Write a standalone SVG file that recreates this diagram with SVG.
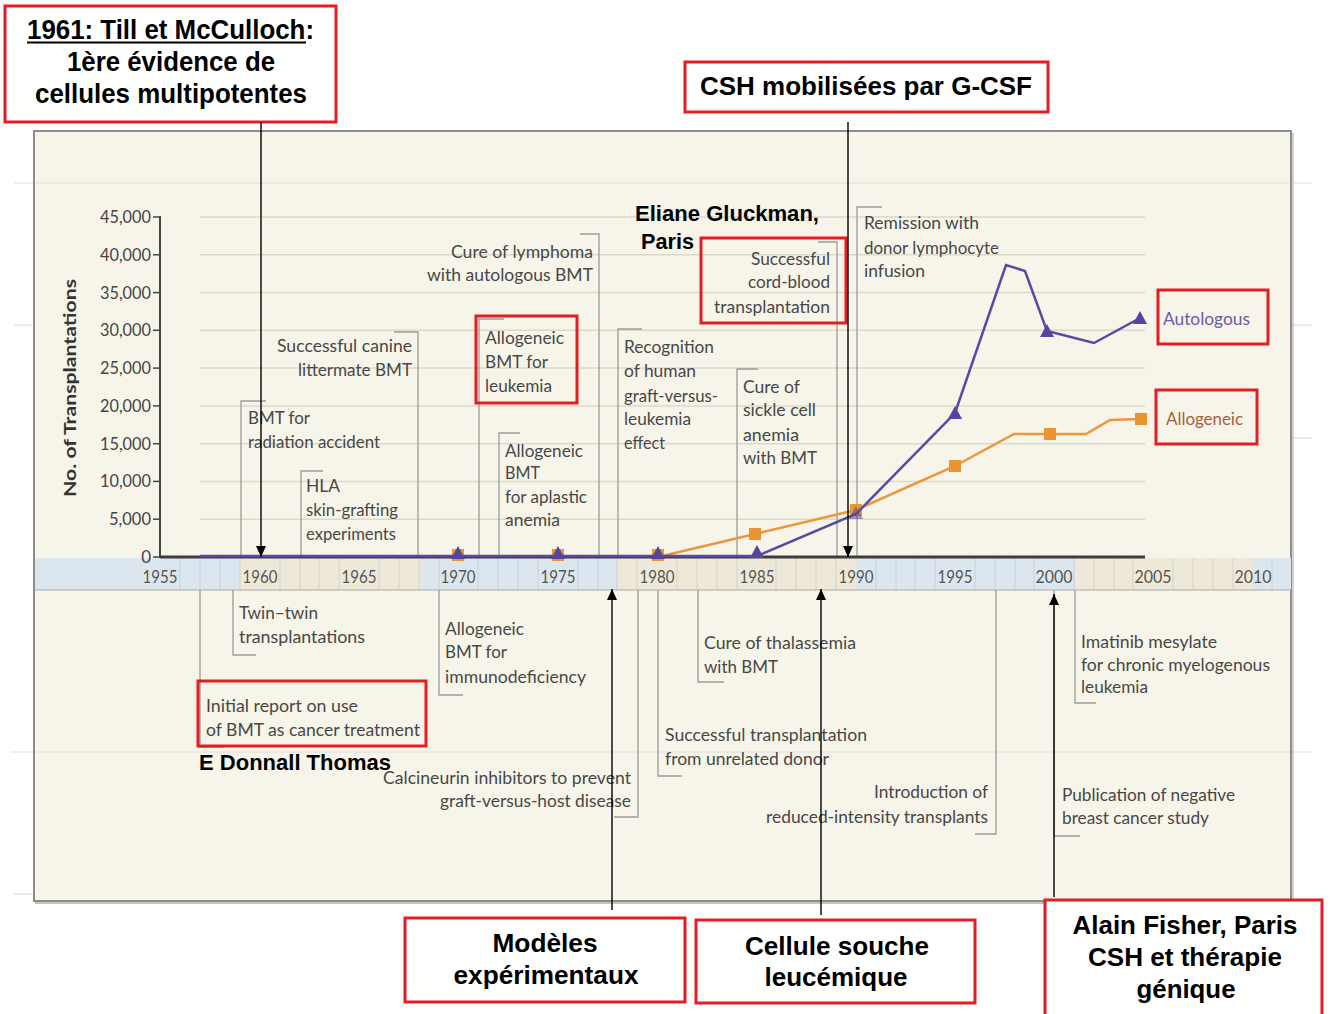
<svg xmlns="http://www.w3.org/2000/svg" xmlns:xlink="http://www.w3.org/1999/xlink" width="1330" height="1014" viewBox="0 0 1330 1014">
<defs>
<style>
.t{font-family:Lato,"Open Sans","Liberation Sans",sans-serif;font-size:18px;fill:#474747}
.e{text-anchor:end}
.m{text-anchor:middle}
.b{font-family:"Liberation Sans",Arial,sans-serif;font-weight:bold;fill:#000}
.rb{fill:none;stroke:#e21d24;stroke-width:3}
.rbw{fill:#fff;stroke:#e21d24;stroke-width:3}
.br{fill:none;stroke:#9a9a9a;stroke-width:1.3}
.grid{stroke:#dcd9ca;stroke-width:1.5}
.faint{stroke:#dedede;stroke-width:1.2}
.arr{stroke:#000;stroke-width:1.4;fill:none;marker-end:url(#ah)}
.yr{font-family:Lato,"Open Sans",sans-serif;font-size:17px;fill:#555;text-anchor:middle}
.yl{font-family:Lato,"Open Sans",sans-serif;font-size:17px;fill:#444;text-anchor:end}
.bl{stroke:#c9cccc;stroke-width:0.8}
</style>
<marker id="ah" markerUnits="userSpaceOnUse" markerWidth="12" markerHeight="12" refX="11" refY="5" orient="auto">
<path d="M0,0 L11,5 L0,10 z" fill="#000"/>
</marker>
<path id="tri" d="M0,-10 L7,3 L-7,3 z" fill="#56459f"/>
<rect id="sq" x="-6" y="-6" width="12" height="12" fill="#ec9431"/>
</defs>
<rect width="1330" height="1014" fill="#fff"/>

<g id="chart-frame">
<line class="faint" x1="14" y1="183" x2="1312" y2="183"/>
<line class="faint" x1="10" y1="752" x2="1312" y2="752"/>
<rect x="34" y="131" width="1257" height="770" fill="#f7f5e9" stroke="#8c8c8c" stroke-width="2"/>
<line class="faint" x1="36" y1="183" x2="1289" y2="183"/>
<line class="faint" x1="36" y1="752" x2="1289" y2="752"/>
<line class="faint" x1="14" y1="325" x2="33" y2="325"/>
<line class="faint" x1="1292" y1="325" x2="1312" y2="325"/>
<line class="faint" x1="1292" y1="438" x2="1312" y2="438"/>
<line class="faint" x1="14" y1="894" x2="33" y2="894"/>
<line x1="35" y1="903" x2="1293" y2="903" stroke="#c4c4c4" stroke-width="2"/>
<line x1="1293" y1="133" x2="1293" y2="903" stroke="#c4c4c4" stroke-width="1.5"/>
</g>

<g id="grid">
<line class="grid" x1="200" y1="217" x2="1145" y2="217"/>
<line class="grid" x1="200" y1="254.8" x2="1145" y2="254.8"/>
<line class="grid" x1="200" y1="292.6" x2="1145" y2="292.6"/>
<line class="grid" x1="200" y1="330.3" x2="1145" y2="330.3"/>
<line class="grid" x1="200" y1="368.1" x2="1145" y2="368.1"/>
<line class="grid" x1="200" y1="405.9" x2="1145" y2="405.9"/>
<line class="grid" x1="200" y1="443.7" x2="1145" y2="443.7"/>
<line class="grid" x1="200" y1="481.4" x2="1145" y2="481.4"/>
<line class="grid" x1="200" y1="519.2" x2="1145" y2="519.2"/>
</g>

<g id="time-band">
<rect x="35" y="558" width="1256" height="32" fill="#dce6ee"/>
<rect x="240" y="558" width="181" height="32" fill="#eee8d8"/>
<rect x="617" y="558" width="239" height="32" fill="#eee8d8"/>
<rect x="1075" y="558" width="178" height="32" fill="#eee8d8"/>
<g class="bl">
<line x1="180" y1="558" x2="180" y2="590"/><line x1="200" y1="558" x2="200" y2="590"/><line x1="220" y1="558" x2="220" y2="590"/><line x1="240" y1="558" x2="240" y2="590"/><line x1="280" y1="558" x2="280" y2="590"/><line x1="300" y1="558" x2="300" y2="590"/><line x1="319" y1="558" x2="319" y2="590"/><line x1="339" y1="558" x2="339" y2="590"/><line x1="379" y1="558" x2="379" y2="590"/><line x1="399" y1="558" x2="399" y2="590"/><line x1="419" y1="558" x2="419" y2="590"/><line x1="439" y1="558" x2="439" y2="590"/><line x1="478" y1="558" x2="478" y2="590"/><line x1="498" y1="558" x2="498" y2="590"/><line x1="518" y1="558" x2="518" y2="590"/><line x1="538" y1="558" x2="538" y2="590"/><line x1="578" y1="558" x2="578" y2="590"/><line x1="598" y1="558" x2="598" y2="590"/><line x1="617" y1="558" x2="617" y2="590"/><line x1="637" y1="558" x2="637" y2="590"/><line x1="677" y1="558" x2="677" y2="590"/><line x1="697" y1="558" x2="697" y2="590"/><line x1="717" y1="558" x2="717" y2="590"/><line x1="737" y1="558" x2="737" y2="590"/><line x1="776" y1="558" x2="776" y2="590"/><line x1="796" y1="558" x2="796" y2="590"/><line x1="816" y1="558" x2="816" y2="590"/><line x1="836" y1="558" x2="836" y2="590"/><line x1="876" y1="558" x2="876" y2="590"/><line x1="896" y1="558" x2="896" y2="590"/><line x1="915" y1="558" x2="915" y2="590"/><line x1="935" y1="558" x2="935" y2="590"/><line x1="975" y1="558" x2="975" y2="590"/><line x1="995" y1="558" x2="995" y2="590"/><line x1="1015" y1="558" x2="1015" y2="590"/><line x1="1034" y1="558" x2="1034" y2="590"/><line x1="1074" y1="558" x2="1074" y2="590"/><line x1="1094" y1="558" x2="1094" y2="590"/><line x1="1114" y1="558" x2="1114" y2="590"/><line x1="1133" y1="558" x2="1133" y2="590"/><line x1="1173" y1="558" x2="1173" y2="590"/><line x1="1193" y1="558" x2="1193" y2="590"/><line x1="1213" y1="558" x2="1213" y2="590"/><line x1="1233" y1="558" x2="1233" y2="590"/><line x1="1272" y1="558" x2="1272" y2="590"/>
</g>
<line x1="35" y1="590" x2="1291" y2="590" stroke="#a8a8a8" stroke-width="1.2"/>
<text class="yr" x="160" y="583" textLength="35" lengthAdjust="spacingAndGlyphs">1955</text>
<text class="yr" x="260" y="583" textLength="35" lengthAdjust="spacingAndGlyphs">1960</text>
<text class="yr" x="359" y="583" textLength="35" lengthAdjust="spacingAndGlyphs">1965</text>
<text class="yr" x="458" y="583" textLength="35" lengthAdjust="spacingAndGlyphs">1970</text>
<text class="yr" x="558" y="583" textLength="35" lengthAdjust="spacingAndGlyphs">1975</text>
<text class="yr" x="657" y="583" textLength="35" lengthAdjust="spacingAndGlyphs">1980</text>
<text class="yr" x="757" y="583" textLength="35" lengthAdjust="spacingAndGlyphs">1985</text>
<text class="yr" x="856" y="583" textLength="35" lengthAdjust="spacingAndGlyphs">1990</text>
<text class="yr" x="955" y="583" textLength="35" lengthAdjust="spacingAndGlyphs">1995</text>
<text class="yr" x="1054" y="583" textLength="37" lengthAdjust="spacingAndGlyphs">2000</text>
<text class="yr" x="1153" y="583" textLength="37" lengthAdjust="spacingAndGlyphs">2005</text>
<text class="yr" x="1253" y="583" textLength="37" lengthAdjust="spacingAndGlyphs">2010</text>
</g>

<g id="y-axis">
<line x1="160" y1="216" x2="160" y2="558" stroke="#444" stroke-width="2"/>
<g stroke="#444" stroke-width="1.5">
<line x1="153" y1="217" x2="160" y2="217"/><line x1="153" y1="254.8" x2="160" y2="254.8"/><line x1="153" y1="292.6" x2="160" y2="292.6"/><line x1="153" y1="330.3" x2="160" y2="330.3"/><line x1="153" y1="368.1" x2="160" y2="368.1"/><line x1="153" y1="405.9" x2="160" y2="405.9"/><line x1="153" y1="443.7" x2="160" y2="443.7"/><line x1="153" y1="481.4" x2="160" y2="481.4"/><line x1="153" y1="519.2" x2="160" y2="519.2"/><line x1="153" y1="557" x2="160" y2="557"/>
</g>
<text class="yl" x="151" y="223" textLength="51" lengthAdjust="spacingAndGlyphs">45,000</text>
<text class="yl" x="151" y="261" textLength="51" lengthAdjust="spacingAndGlyphs">40,000</text>
<text class="yl" x="151" y="299" textLength="51" lengthAdjust="spacingAndGlyphs">35,000</text>
<text class="yl" x="151" y="336" textLength="51" lengthAdjust="spacingAndGlyphs">30,000</text>
<text class="yl" x="151" y="374" textLength="51" lengthAdjust="spacingAndGlyphs">25,000</text>
<text class="yl" x="151" y="412" textLength="51" lengthAdjust="spacingAndGlyphs">20,000</text>
<text class="yl" x="151" y="450" textLength="51" lengthAdjust="spacingAndGlyphs">15,000</text>
<text class="yl" x="151" y="487" textLength="51" lengthAdjust="spacingAndGlyphs">10,000</text>
<text class="yl" x="151" y="525" textLength="42" lengthAdjust="spacingAndGlyphs">5,000</text>
<text class="yl" x="151" y="563">0</text>
<text transform="translate(76,388) rotate(-90)" text-anchor="middle" font-family="Lato,'Open Sans',sans-serif" font-weight="bold" font-size="17" fill="#333" textLength="218" lengthAdjust="spacingAndGlyphs">No. of Transplantations</text>
</g>

<g id="annotations-upper">
<g id="ann-radiation">
<path class="br" d="M266,401 H241 V557"/>
<text class="t" x="248" y="424" textLength="62" lengthAdjust="spacingAndGlyphs">BMT for</text>
<text class="t" x="248" y="448" textLength="132" lengthAdjust="spacingAndGlyphs">radiation accident</text>
</g>
<g id="ann-canine">
<path class="br" d="M394,332 H418 V557"/>
<text class="t e" x="412" y="352" textLength="135" lengthAdjust="spacingAndGlyphs">Successful canine</text>
<text class="t e" x="412" y="376" textLength="114" lengthAdjust="spacingAndGlyphs">littermate BMT</text>
</g>
<g id="ann-hla">
<path class="br" d="M323,471 H301 V557"/>
<text class="t" x="306" y="492" textLength="34" lengthAdjust="spacingAndGlyphs">HLA</text>
<text class="t" x="306" y="516" textLength="92" lengthAdjust="spacingAndGlyphs">skin-grafting</text>
<text class="t" x="306" y="540" textLength="90" lengthAdjust="spacingAndGlyphs">experiments</text>
</g>
<g id="ann-leukemia">
<path class="br" d="M504,319 H479 V557"/>
<text class="t" x="485" y="344" textLength="79" lengthAdjust="spacingAndGlyphs">Allogeneic</text>
<text class="t" x="485" y="368" textLength="63" lengthAdjust="spacingAndGlyphs">BMT for</text>
<text class="t" x="485" y="392" textLength="67" lengthAdjust="spacingAndGlyphs">leukemia</text>
<rect class="rb" x="476" y="316" width="101" height="87"/>
</g>
<g id="ann-aplastic">
<path class="br" d="M520,433 H499 V557"/>
<text class="t" x="505" y="457" textLength="78" lengthAdjust="spacingAndGlyphs">Allogeneic</text>
<text class="t" x="505" y="479" textLength="35" lengthAdjust="spacingAndGlyphs">BMT</text>
<text class="t" x="505" y="503" textLength="82" lengthAdjust="spacingAndGlyphs">for aplastic</text>
<text class="t" x="505" y="526" textLength="55" lengthAdjust="spacingAndGlyphs">anemia</text>
</g>
<g id="ann-lymphoma">
<path class="br" d="M580,234 H599 V557"/>
<text class="t e" x="593" y="258" textLength="142" lengthAdjust="spacingAndGlyphs">Cure of lymphoma</text>
<text class="t e" x="593" y="281" textLength="166" lengthAdjust="spacingAndGlyphs">with autologous BMT</text>
</g>
<g id="ann-recognition">
<path class="br" d="M642,329 H618 V557"/>
<text class="t" x="624" y="353" textLength="90" lengthAdjust="spacingAndGlyphs">Recognition</text>
<text class="t" x="624" y="377" textLength="72" lengthAdjust="spacingAndGlyphs">of human</text>
<text class="t" x="624" y="402" textLength="94" lengthAdjust="spacingAndGlyphs">graft-versus-</text>
<text class="t" x="624" y="425" textLength="67" lengthAdjust="spacingAndGlyphs">leukemia</text>
<text class="t" x="624" y="449" textLength="41" lengthAdjust="spacingAndGlyphs">effect</text>
</g>
<g id="ann-sickle">
<path class="br" d="M758,369 H737 V557"/>
<text class="t" x="743" y="393" textLength="57" lengthAdjust="spacingAndGlyphs">Cure of</text>
<text class="t" x="743" y="416" textLength="73" lengthAdjust="spacingAndGlyphs">sickle cell</text>
<text class="t" x="743" y="441" textLength="56" lengthAdjust="spacingAndGlyphs">anemia</text>
<text class="t" x="743" y="464" textLength="74" lengthAdjust="spacingAndGlyphs">with BMT</text>
</g>
<g id="ann-cordblood">
<path class="br" d="M818,242 H837 V557"/>
<text class="t e" x="830" y="265" textLength="79" lengthAdjust="spacingAndGlyphs">Successful</text>
<text class="t e" x="830" y="288" textLength="82" lengthAdjust="spacingAndGlyphs">cord-blood</text>
<text class="t e" x="830" y="313" textLength="116" lengthAdjust="spacingAndGlyphs">transplantation</text>
<rect class="rb" x="701" y="238" width="145" height="85"/>
</g>
<g id="ann-remission">
<path class="br" d="M882,207 H857 V557"/>
<text class="t" x="864" y="229" textLength="115" lengthAdjust="spacingAndGlyphs">Remission with</text>
<text class="t" x="864" y="254" textLength="135" lengthAdjust="spacingAndGlyphs">donor lymphocyte</text>
<text class="t" x="864" y="277" textLength="61" lengthAdjust="spacingAndGlyphs">infusion</text>
</g>
<g id="label-gluckman">
<text class="b" x="635" y="221" font-size="22" textLength="184" lengthAdjust="spacingAndGlyphs">Eliane Gluckman,</text>
<text class="b" x="641" y="249" font-size="22" textLength="53" lengthAdjust="spacingAndGlyphs">Paris</text>
</g>
</g>

<g id="data">
<line x1="160" y1="557" x2="1145" y2="557" stroke="#3c3c3c" stroke-width="3"/>
<polyline points="658,557 755,534 856,510 955,466 1014,434 1050,434 1086,434 1110,420 1141,419" fill="none" stroke="#eb973a" stroke-width="2.5"/>
<use xlink:href="#sq" x="458" y="555"/><use xlink:href="#sq" x="558" y="555"/><use xlink:href="#sq" x="658" y="555"/>
<use xlink:href="#sq" x="755" y="534"/><use xlink:href="#sq" x="856" y="510"/><use xlink:href="#sq" x="955" y="466"/><use xlink:href="#sq" x="1050" y="434"/><use xlink:href="#sq" x="1141" y="419"/>
<polyline points="200,556 757,556 856,514 955,413 1006,265 1025,271 1047,331 1094,343 1140,318" fill="none" stroke="#5a48a5" stroke-width="2.5"/>
<use xlink:href="#tri" x="458" y="556"/><use xlink:href="#tri" x="558" y="556"/><use xlink:href="#tri" x="658" y="556"/><use xlink:href="#tri" x="757" y="555"/>
<use xlink:href="#tri" x="856" y="516" opacity="0.55"/><use xlink:href="#tri" x="955" y="416"/><use xlink:href="#tri" x="1047" y="334"/><use xlink:href="#tri" x="1140" y="321"/>
</g>

<g id="legend-autologous">
<rect class="rb" x="1158" y="290" width="110" height="54"/>
<text class="t" x="1163" y="325" style="fill:#6a5aaa" textLength="87" lengthAdjust="spacingAndGlyphs">Autologous</text>
</g>
<g id="legend-allogeneic">
<rect class="rb" x="1156" y="390" width="101" height="54"/>
<text class="t" x="1166" y="425" style="fill:#a85f3c" textLength="77" lengthAdjust="spacingAndGlyphs">Allogeneic</text>
</g>

<g id="annotations-lower">
<g id="ann-twin">
<path class="br" d="M233,590 V655 H256"/>
<text class="t" x="239" y="619" textLength="79" lengthAdjust="spacingAndGlyphs">Twin–twin</text>
<text class="t" x="239" y="643" textLength="126" lengthAdjust="spacingAndGlyphs">transplantations</text>
</g>
<g id="ann-initial">
<path class="br" d="M200,590 V747 H224"/>
<text class="t" x="206" y="712" textLength="152" lengthAdjust="spacingAndGlyphs">Initial report on use</text>
<text class="t" x="206" y="736" textLength="214" lengthAdjust="spacingAndGlyphs">of BMT as cancer treatment</text>
<rect class="rb" x="198" y="681" width="228" height="65"/>
</g>
<g id="label-thomas">
<text class="b" x="199" y="770" font-size="22" textLength="192" lengthAdjust="spacingAndGlyphs">E Donnall Thomas</text>
</g>
<g id="ann-immuno">
<path class="br" d="M439,590 V695 H463"/>
<text class="t" x="445" y="635" textLength="79" lengthAdjust="spacingAndGlyphs">Allogeneic</text>
<text class="t" x="445" y="658" textLength="62" lengthAdjust="spacingAndGlyphs">BMT for</text>
<text class="t" x="445" y="683" textLength="141" lengthAdjust="spacingAndGlyphs">immunodeficiency</text>
</g>
<g id="ann-calcineurin">
<path class="br" d="M638,590 V817 H614"/>
<text class="t e" x="631" y="784" textLength="248" lengthAdjust="spacingAndGlyphs">Calcineurin inhibitors to prevent</text>
<text class="t e" x="631" y="807" textLength="191" lengthAdjust="spacingAndGlyphs">graft-versus-host disease</text>
</g>
<g id="ann-unrelated">
<path class="br" d="M658,590 V776 H682"/>
<text class="t" x="665" y="741" textLength="202" lengthAdjust="spacingAndGlyphs">Successful transplantation</text>
<text class="t" x="665" y="765" textLength="164" lengthAdjust="spacingAndGlyphs">from unrelated donor</text>
</g>
<g id="ann-thalassemia">
<path class="br" d="M698,590 V682 H724"/>
<text class="t" x="704" y="649" textLength="152" lengthAdjust="spacingAndGlyphs">Cure of thalassemia</text>
<text class="t" x="704" y="673" textLength="74" lengthAdjust="spacingAndGlyphs">with BMT</text>
</g>
<g id="ann-reduced">
<path class="br" d="M996,590 V834 H975"/>
<text class="t e" x="988" y="798" textLength="114" lengthAdjust="spacingAndGlyphs">Introduction of</text>
<text class="t e" x="988" y="823" textLength="222" lengthAdjust="spacingAndGlyphs">reduced-intensity transplants</text>
</g>
<g id="ann-imatinib">
<path class="br" d="M1075,590 V703 H1096"/>
<text class="t" x="1081" y="648" textLength="136" lengthAdjust="spacingAndGlyphs">Imatinib mesylate</text>
<text class="t" x="1081" y="671" textLength="189" lengthAdjust="spacingAndGlyphs">for chronic myelogenous</text>
<text class="t" x="1081" y="693" textLength="67" lengthAdjust="spacingAndGlyphs">leukemia</text>
</g>
<g id="ann-breast">
<path class="br" d="M1054,590 V836 H1080"/>
<text class="t" x="1062" y="801" textLength="173" lengthAdjust="spacingAndGlyphs">Publication of negative</text>
<text class="t" x="1062" y="824" textLength="147" lengthAdjust="spacingAndGlyphs">breast cancer study</text>
</g>
</g>

<g id="box-till">
<rect class="rbw" x="5" y="6" width="331" height="116"/>
<text class="b" x="27" y="39" font-size="27" textLength="287" lengthAdjust="spacingAndGlyphs">1961: Till et McCulloch:</text>
<line x1="27" y1="42.5" x2="306" y2="42.5" stroke="#000" stroke-width="2"/>
<text class="b m" x="171" y="71" font-size="27" textLength="208" lengthAdjust="spacingAndGlyphs">1ère évidence de</text>
<text class="b m" x="171" y="103" font-size="27" textLength="272" lengthAdjust="spacingAndGlyphs">cellules multipotentes</text>
</g>
<g id="box-gcsf">
<rect class="rbw" x="685" y="62" width="363" height="50"/>
<text class="b" x="700" y="95" font-size="25" textLength="332" lengthAdjust="spacingAndGlyphs">CSH mobilisées par G-CSF</text>
</g>
<g id="box-modeles">
<rect class="rbw" x="405" y="918" width="280" height="84"/>
<text class="b m" x="545" y="952" font-size="26" textLength="105" lengthAdjust="spacingAndGlyphs">Modèles</text>
<text class="b m" x="546" y="984" font-size="26" textLength="185" lengthAdjust="spacingAndGlyphs">expérimentaux</text>
</g>
<g id="box-cellule">
<rect class="rbw" x="696" y="920" width="279" height="83"/>
<text class="b m" x="837" y="955" font-size="26" textLength="184" lengthAdjust="spacingAndGlyphs">Cellule souche</text>
<text class="b m" x="836" y="986" font-size="26" textLength="143" lengthAdjust="spacingAndGlyphs">leucémique</text>
</g>
<g id="box-fisher">
<rect class="rbw" x="1045" y="900" width="277" height="125"/>
<text class="b m" x="1185" y="934" font-size="26" textLength="225" lengthAdjust="spacingAndGlyphs">Alain Fisher, Paris</text>
<text class="b m" x="1185" y="966" font-size="26" textLength="194" lengthAdjust="spacingAndGlyphs">CSH et thérapie</text>
<text class="b m" x="1186" y="998" font-size="26" textLength="99" lengthAdjust="spacingAndGlyphs">génique</text>
</g>

<g id="connectors">
<line class="arr" x1="261" y1="122" x2="261" y2="557"/>
<line class="arr" x1="848" y1="122" x2="848" y2="557"/>
<line class="arr" x1="612" y1="910" x2="612" y2="589"/>
<line class="arr" x1="821" y1="915" x2="821" y2="589"/>
<line class="arr" x1="1054" y1="897" x2="1054" y2="594"/>
</g>
</svg>
